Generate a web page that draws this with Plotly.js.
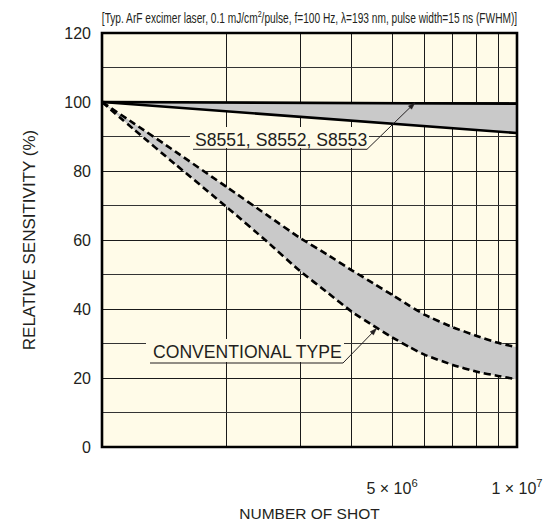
<!DOCTYPE html>
<html>
<head>
<meta charset="utf-8">
<script src="https://cdn.plot.ly/plotly-3.0.1.min.js"></script>
<style>
  html, body { margin: 0; padding: 0; background: #ffffff; }
  #chart { width: 544px; height: 527px; }
</style>
</head>
<body>
<div id="chart"></div>
<script>
// ---- data ----
const sShots = [1e6, 1e7];
const sUpper = [100, 99.5];
const sLower = [100, 91];

const convShots = [1e6, 1.2e6, 1.5e6, 2e6, 2.5e6, 3e6, 3.5e6, 4e6, 4.5e6, 5e6, 5.5e6, 6e6, 7e6, 8e6, 9e6, 1e7];
const convUpper = [100, 93.6, 85.7, 75.3, 67.2, 60.6, 55.7, 51.2, 47.5, 44.1, 41.0, 38.3, 34.7, 32.2, 30.2, 28.9];
const convLower = [100, 91.8, 82.0, 69.5, 59.5, 51.0, 44.7, 39.2, 35.2, 31.8, 29.0, 26.7, 23.8, 21.8, 20.6, 19.6];

const xTickVals = [5e6, 1e7];
const xTickText = ['5 \u00d7 10<sup>6</sup>', '1 \u00d7 10<sup>7</sup>'];
const xGridVals = [2e6, 3e6, 4e6, 6e6, 7e6, 8e6, 9e6];
const yTickVals = [0, 20, 40, 60, 80, 100, 120];

const seriesLabels = ['S8551, S8552, S8553', 'CONVENTIONAL TYPE'];
const titleText = '[Typ. ArF excimer laser, 0.1 mJ/cm<sup>2</sup>/pulse, f=100 Hz, \u03bb=193 nm, pulse width=15 ns (FWHM)]';

// ---- styles / geometry ----
const cream = '#fffbe8';
const bandGray = '#c9c9c9';
const ink = '#231f20';
const font = 'Liberation Sans, Arial, Helvetica, sans-serif';
const dashed = { color: '#000', width: 2.6, dash: '7px,4px', shape: 'spline', smoothing: 0.5 };
const M = { l: 102, r: 27, t: 33, b: 80 }, W = 544, H = 527;
const PW = W - M.l - M.r, PH = H - M.t - M.b;
const px = x => (x - M.l) / PW;           // pixel -> paper x
const py = y => (H - M.b - y) / PH;       // pixel -> paper y

function lineShape(x0, y0, x1, y1) {
  return { type: 'line', xref: 'paper', yref: 'paper', x0: px(x0), y0: py(y0), x1: px(x1), y1: py(y1),
           line: { color: ink, width: 1 }, layer: 'above' };
}
function maskShape(x0, y0, x1, y1) {
  return { type: 'rect', xref: 'paper', yref: 'paper', x0: px(x0), y0: py(y0), x1: px(x1), y1: py(y1),
           line: { width: 0 }, fillcolor: cream, layer: 'above' };
}
function headShape(tx, ty, hx, hy) {
  const dx = hx - tx, dy = hy - ty, L = Math.hypot(dx, dy);
  const ux = dx / L, uy = dy / L, len = 7, hw = 2.3;
  const bx = hx - len * ux, by = hy - len * uy;
  const p1 = [bx - hw * uy, by + hw * ux], p2 = [bx + hw * uy, by - hw * ux];
  const path = 'M' + px(hx) + ',' + py(hy) + ' L' + px(p1[0]) + ',' + py(p1[1]) + ' L' + px(p2[0]) + ',' + py(p2[1]) + ' Z';
  return { type: 'path', xref: 'paper', yref: 'paper', path: path, fillcolor: ink, line: { color: ink, width: 0.5 }, layer: 'above' };
}

const traces = [
  { x: convShots, y: convUpper, mode: 'lines', line: dashed, hoverinfo: 'skip' },
  { x: convShots, y: convLower, mode: 'lines', fill: 'tonexty', fillcolor: bandGray, line: dashed, hoverinfo: 'skip' },
  { x: sShots, y: sUpper, mode: 'lines', line: { color: '#000', width: 2.6 }, hoverinfo: 'skip' },
  { x: sShots, y: sLower, mode: 'lines', fill: 'tonexty', fillcolor: bandGray, line: { color: '#000', width: 2.6 }, hoverinfo: 'skip' }
];

const layout = {
  width: W, height: H,
  margin: M,
  paper_bgcolor: '#ffffff',
  plot_bgcolor: cream,
  showlegend: false,
  font: { family: font, color: ink, size: 16 },
  title: {
    text: titleText,
    font: { family: font, size: 14, color: ink },
    xref: 'paper', x: 0.5, xanchor: 'center',
    yref: 'container', y: 1 - 18 / H, yanchor: 'middle'
  },
  xaxis: {
    type: 'log', range: [6, 7],
    tickvals: xTickVals, ticktext: xTickText,
    ticks: '', ticklabelstandoff: 30,
    showgrid: true, gridcolor: '#1a1a1a', gridwidth: 1,
    minor: { tickvals: xGridVals, showgrid: true, gridcolor: '#1a1a1a', gridwidth: 1, ticks: '' },
    zeroline: false, showline: false,
    tickfont: { size: 16, color: ink },
    title: { text: 'NUMBER OF SHOT', font: { size: 15.5, color: ink }, standoff: 12 },
    fixedrange: true
  },
  yaxis: {
    range: [0, 120],
    tickvals: yTickVals,
    ticks: '', ticklabelstandoff: 10,
    showgrid: true, gridcolor: '#1a1a1a', gridwidth: 1,
    minor: { dtick: 10, showgrid: true, gridcolor: '#333', gridwidth: 1, ticks: '' },
    zeroline: false, showline: false,
    tickfont: { size: 16, color: ink },
    title: { text: 'RELATIVE SENSITIVITY (%)', font: { size: 17, color: ink }, standoff: 24 },
    fixedrange: true
  },
  shapes: [
    // label backgrounds that hide the grid behind the callouts
    maskShape(190, 127, 369, 148),
    maskShape(146, 339, 344, 362),
    // underline + leader + arrowhead: S8551...
    lineShape(193, 149.3, 367, 149.3),
    lineShape(367, 149.3, 412, 105.6),
    headShape(367, 149.3, 415, 102.7),
    // underline + leader + arrowhead: conventional
    lineShape(150, 363, 343, 363),
    lineShape(343, 363, 374.5, 330.6),
    headShape(343, 363, 376.7, 328.3),
    // heavy frame
    { type: 'rect', xref: 'paper', yref: 'paper', x0: 0, x1: 1, y0: 0, y1: 1, line: { color: '#000', width: 2.6 }, layer: 'above' }
  ],
  annotations: [
    { xref: 'paper', yref: 'paper', x: px(281), y: py(139.5), text: seriesLabels[0], showarrow: false,
      font: { size: 17.6, color: ink }, xanchor: 'center', yanchor: 'middle' },
    { xref: 'paper', yref: 'paper', x: px(247), y: py(351.5), text: seriesLabels[1], showarrow: false,
      font: { size: 17.6, color: ink }, xanchor: 'center', yanchor: 'middle' }
  ]
};

Plotly.newPlot('chart', traces, layout, { displayModeBar: false, staticPlot: true }).then(function (gd) {
  // compress the condition line horizontally, like the narrow face in the original
  const t = gd.querySelector('.gtitle');
  if (t && t.getBBox) {
    const bb = t.getBBox();
    const target = 416, cx = 309.5;
    const s = Math.min(1, target / bb.width);
    const c0 = bb.x + bb.width / 2;
    t.setAttribute('transform', 'translate(' + cx + ',0) scale(' + s + ',1) translate(' + (-c0) + ',0)');
  }
});
</script>
</body>
</html>
